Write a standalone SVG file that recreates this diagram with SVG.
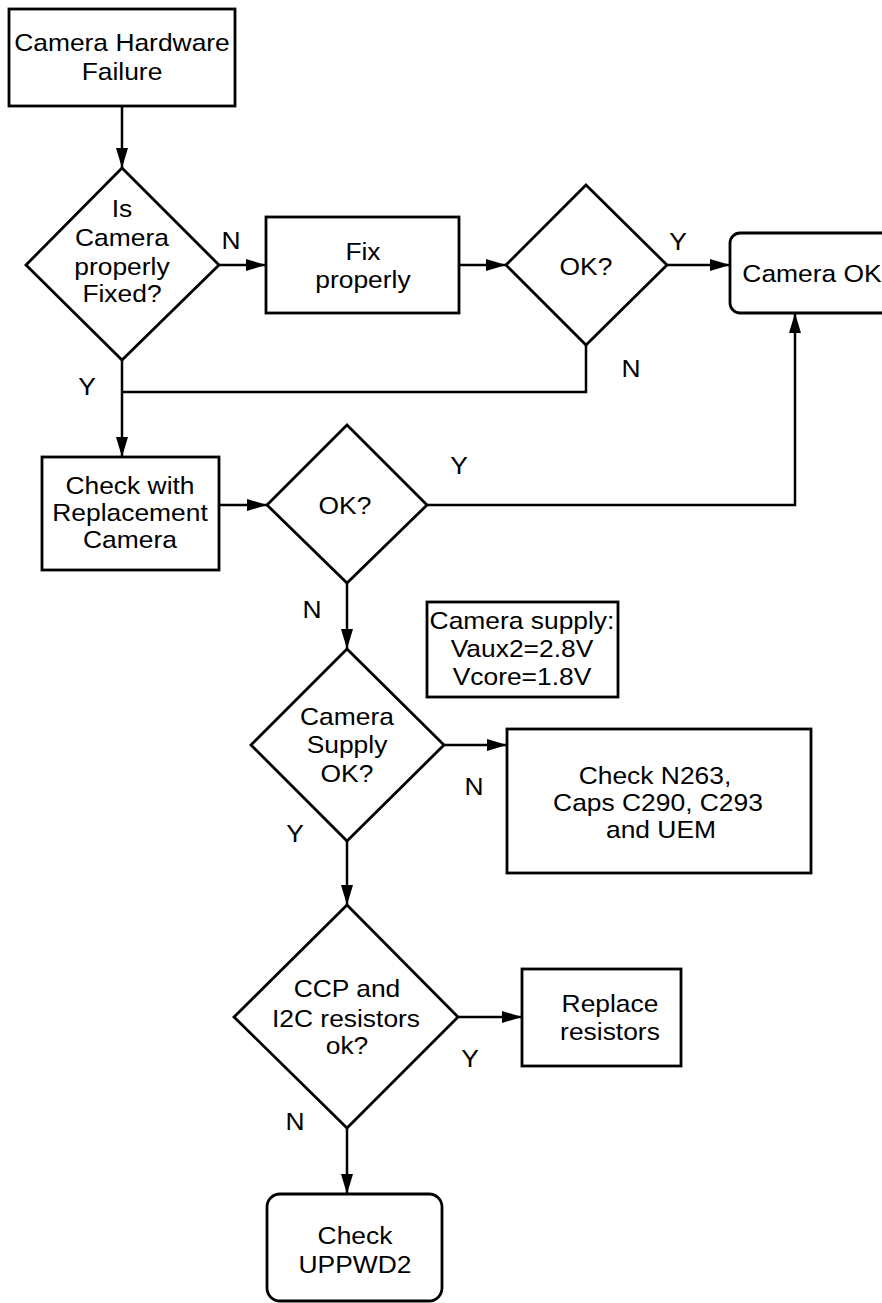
<svg xmlns="http://www.w3.org/2000/svg" width="882" height="1303" viewBox="0 0 882 1303">
<style>
.s{fill:#fff;stroke:#000;stroke-width:2.8}
.c{fill:none;stroke:#000;stroke-width:2.5}
.t{font-family:"Liberation Sans",Arial,sans-serif;font-size:24px;text-anchor:middle;fill:#000;transform-box:fill-box;transform-origin:center;transform:scaleX(1.1)}
</style>
<defs>
<marker id="a" markerUnits="userSpaceOnUse" markerWidth="20" markerHeight="12" refX="20" refY="6" orient="auto">
<path d="M0,0 L20,6 L0,12 z" fill="#000"/>
</marker>
</defs>
<rect width="882" height="1303" fill="#fff"/>
<g id="connectors">
<path class="c" d="M122,106 V168" marker-end="url(#a)"/>
<path class="c" d="M219,265 H266" marker-end="url(#a)"/>
<path class="c" d="M459,265 H506" marker-end="url(#a)"/>
<path class="c" d="M667,265 H730" marker-end="url(#a)"/>
<path class="c" d="M586,345 V392 H122"/>
<path class="c" d="M122,360 V457" marker-end="url(#a)"/>
<path class="c" d="M219,505 H267" marker-end="url(#a)"/>
<path class="c" d="M427,505 H795 V313" marker-end="url(#a)"/>
<path class="c" d="M347,583 V649" marker-end="url(#a)"/>
<path class="c" d="M444,745 H507" marker-end="url(#a)"/>
<path class="c" d="M347,841 V905" marker-end="url(#a)"/>
<path class="c" d="M458,1017 H522" marker-end="url(#a)"/>
<path class="c" d="M347,1128 V1194" marker-end="url(#a)"/>
<text class="t" x="231" y="249">N</text>
<text class="t" x="678" y="250">Y</text>
<text class="t" x="631" y="377">N</text>
<text class="t" x="87" y="395">Y</text>
<text class="t" x="459" y="474">Y</text>
<text class="t" x="312" y="618">N</text>
<text class="t" x="474" y="795">N</text>
<text class="t" x="295" y="842">Y</text>
<text class="t" x="470" y="1067">Y</text>
<text class="t" x="295" y="1130">N</text>
</g>
<g id="start">
<rect class="s" x="9" y="9" width="226" height="97"/>
<text class="t" x="122" y="51">Camera Hardware</text>
<text class="t" x="122" y="80">Failure</text>
</g>
<g id="fixed">
<path class="s" d="M122,168 L219,265 L122,360 L26,265 Z"/>
<text class="t" x="122" y="217">Is</text>
<text class="t" x="122" y="246">Camera</text>
<text class="t" x="122" y="275">properly</text>
<text class="t" x="122" y="302">Fixed?</text>
</g>
<g id="fix">
<rect class="s" x="266" y="217" width="193" height="96"/>
<text class="t" x="363" y="260">Fix</text>
<text class="t" x="363" y="288">properly</text>
</g>
<g id="ok1">
<path class="s" d="M586,185 L667,265 L586,345 L506,265 Z"/>
<text class="t" x="586" y="275">OK?</text>
</g>
<g id="cameraok">
<rect class="s" x="730" y="233" width="170" height="80" rx="10"/>
<text class="t" x="812" y="282">Camera OK</text>
</g>
<g id="replacement">
<rect class="s" x="42" y="457" width="177" height="113"/>
<text class="t" x="130" y="494">Check with</text>
<text class="t" x="130" y="521">Replacement</text>
<text class="t" x="130" y="548">Camera</text>
</g>
<g id="ok2">
<path class="s" d="M347,425 L427,505 L347,583 L267,505 Z"/>
<text class="t" x="345" y="514">OK?</text>
</g>
<g id="supplynote">
<rect class="s" x="427" y="602" width="191" height="95"/>
<text class="t" x="522" y="629">Camera supply:</text>
<text class="t" x="522" y="657">Vaux2=2.8V</text>
<text class="t" x="522" y="685">Vcore=1.8V</text>
</g>
<g id="supply">
<path class="s" d="M347,649 L444,745 L347,841 L251,745 Z"/>
<text class="t" x="347" y="725">Camera</text>
<text class="t" x="347" y="753">Supply</text>
<text class="t" x="347" y="782">OK?</text>
</g>
<g id="checkn263">
<rect class="s" x="507" y="729" width="304" height="144"/>
<text class="t" x="655" y="784">Check N263,</text>
<text class="t" x="658" y="811">Caps C290, C293</text>
<text class="t" x="661" y="838">and UEM</text>
</g>
<g id="resistors">
<path class="s" d="M347,905 L458,1017 L347,1128 L234,1017 Z"/>
<text class="t" x="347" y="997">CCP and</text>
<text class="t" x="346" y="1027">I2C resistors</text>
<text class="t" x="347" y="1054">ok?</text>
</g>
<g id="replace">
<rect class="s" x="522" y="969" width="159" height="97"/>
<text class="t" x="610" y="1012">Replace</text>
<text class="t" x="610" y="1040">resistors</text>
</g>
<g id="uppwd2">
<rect class="s" x="267" y="1194" width="175" height="107" rx="13"/>
<text class="t" x="355" y="1244">Check</text>
<text class="t" x="355" y="1273">UPPWD2</text>
</g>
</svg>
